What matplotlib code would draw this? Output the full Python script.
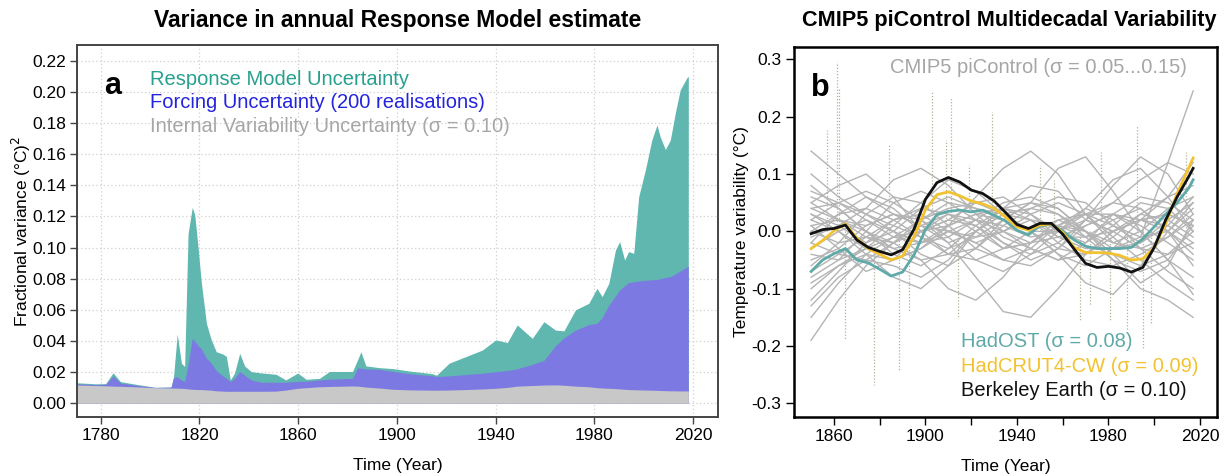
import matplotlib
matplotlib.use('Agg')
import matplotlib.pyplot as plt

plt.rcParams['font.family'] = ['Liberation Sans', 'DejaVu Sans']
plt.rcParams['axes.unicode_minus'] = False

# ---- panel a: variance layers (upper edge of each stacked layer) ----
var_years = [1770, 1778, 1782, 1785, 1788, 1795, 1802, 1808.5, 1809.5, 1811, 1812.7, 1814,
             1815.4, 1817.1, 1818.1, 1819.4, 1820.8, 1822.8, 1824.8, 1826.8, 1829.5, 1830.9,
             1832.5, 1834.2, 1836.3, 1838.3, 1841, 1845, 1851, 1855, 1859.8, 1863.2, 1868.6,
             1872.6, 1882, 1884, 1885.4, 1887.4, 1892.8, 1898.2, 1905, 1914.4, 1916, 1921.1,
             1927.9, 1934.6, 1940, 1944.7, 1948.7, 1954.8, 1959.5, 1964.2, 1967.6, 1972.3,
             1977.7, 1981, 1983.1, 1985.8, 1988.5, 1990.2, 1992.2, 1993.8, 1995.9, 1997.9,
             2000.6, 2003.2, 2005.3, 2006.6, 2008.7, 2010.7, 2012.7, 2014.7, 2017.4, 2018]
total_top = [0.0132, 0.0125, 0.0126, 0.0196, 0.0139, 0.0120, 0.0103, 0.0105, 0.0170, 0.0445,
             0.0257, 0.0236, 0.1090, 0.1259, 0.1210, 0.1006, 0.0770, 0.0514, 0.0407, 0.0331,
             0.0316, 0.0301, 0.0150, 0.0194, 0.0321, 0.0240, 0.0203, 0.0195, 0.0186, 0.0150,
             0.0194, 0.0154, 0.0160, 0.0204, 0.0204, 0.0278, 0.0331, 0.0240, 0.0229, 0.0223,
             0.0207, 0.0190, 0.0180, 0.0257, 0.0300, 0.0342, 0.0407, 0.0390, 0.0503, 0.0417,
             0.0524, 0.0470, 0.0465, 0.0600, 0.0642, 0.0738, 0.0685, 0.0770, 0.0985, 0.1038,
             0.0920, 0.0974, 0.0963, 0.1327, 0.1498, 0.1690, 0.1787, 0.1712, 0.1630, 0.1690,
             0.1862, 0.2012, 0.2090, 0.2100]
forcing_top = [0.0125, 0.0120, 0.0122, 0.0175, 0.0130, 0.0115, 0.0101, 0.0103, 0.0165, 0.0170,
               0.0150, 0.0140, 0.0250, 0.0417, 0.0400, 0.0370, 0.0350, 0.0290, 0.0257, 0.0210,
               0.0175, 0.0160, 0.0140, 0.0160, 0.0204, 0.0180, 0.0150, 0.0135, 0.0135, 0.0135,
               0.0141, 0.0141, 0.0150, 0.0155, 0.0160, 0.0228, 0.0225, 0.0220, 0.0218, 0.0205,
               0.0190, 0.0176, 0.0172, 0.0176, 0.0185, 0.0193, 0.0203, 0.0210, 0.0222, 0.0250,
               0.0275, 0.0370, 0.0420, 0.0470, 0.0505, 0.0514, 0.0550, 0.0630, 0.0690, 0.0728,
               0.0755, 0.0775, 0.0780, 0.0785, 0.0790, 0.0793, 0.0795, 0.0800, 0.0808, 0.0813,
               0.0830, 0.0850, 0.0875, 0.0880]
internal_top = [0.0117, 0.0114, 0.0112, 0.0110, 0.0109, 0.0105, 0.0100, 0.0098, 0.0097, 0.0097,
                0.0096, 0.0095, 0.0092, 0.0090, 0.0089, 0.0088, 0.0088, 0.0086, 0.0084, 0.0080,
                0.0078, 0.0077, 0.0077, 0.0077, 0.0077, 0.0077, 0.0077, 0.0077, 0.0078, 0.0085,
                0.0096, 0.0100, 0.0106, 0.0108, 0.0111, 0.0110, 0.0108, 0.0104, 0.0098, 0.0090,
                0.0086, 0.0084, 0.0084, 0.0085, 0.0088, 0.0092, 0.0096, 0.0102, 0.0110, 0.0114,
                0.0117, 0.0118, 0.0116, 0.0110, 0.0106, 0.0100, 0.0098, 0.0096, 0.0094, 0.0092,
                0.0090, 0.0088, 0.0087, 0.0086, 0.0085, 0.0084, 0.0083, 0.0082, 0.0081, 0.0080,
                0.0080, 0.0079, 0.0079, 0.0079]

# ---- panel b: observed multidecadal variability ----
obs_years = [1850, 1855, 1860, 1865, 1870, 1875, 1880, 1885, 1890, 1895, 1900, 1905, 1910,
             1915, 1920, 1925, 1930, 1935, 1940, 1945, 1950, 1955, 1960, 1965, 1970, 1975,
             1980, 1985, 1990, 1995, 2000, 2005, 2010, 2015, 2017]
berkeley = [-0.004, 0.003, 0.005, 0.011, -0.015, -0.028, -0.035, -0.041, -0.032, 0.004, 0.056,
            0.085, 0.094, 0.086, 0.072, 0.066, 0.053, 0.033, 0.012, 0.005, 0.014, 0.014, -0.005,
            -0.031, -0.056, -0.063, -0.061, -0.064, -0.071, -0.063, -0.028, 0.020, 0.060, 0.095, 0.110]
hadcrut4_cw = [-0.030, -0.016, 0.001, 0.013, -0.012, -0.030, -0.040, -0.050, -0.043, -0.009, 0.038,
               0.064, 0.069, 0.062, 0.053, 0.048, 0.040, 0.025, 0.008, 0.002, 0.011, 0.013, -0.002,
               -0.028, -0.037, -0.037, -0.038, -0.042, -0.050, -0.048, -0.028, 0.013, 0.066, 0.110, 0.128]
hadost = [-0.070, -0.050, -0.039, -0.030, -0.050, -0.055, -0.066, -0.078, -0.071, -0.041, 0.003,
          0.029, 0.035, 0.037, 0.034, 0.037, 0.028, 0.018, 0.002, -0.006, 0.010, 0.012, 0.001,
          -0.015, -0.026, -0.030, -0.030, -0.030, -0.028, -0.013, 0.008, 0.030, 0.050, 0.075, 0.090]

# CMIP5 piControl runs (smoothed), sampled every 12 years
pi_years = [1850, 1862, 1874, 1886, 1898, 1910, 1922, 1934, 1946, 1958, 1970, 1982, 1994, 2006, 2017]
picontrol = [
    [0.14, 0.10, 0.06, 0.03, 0.01, 0.00, -0.01, 0.00, 0.02, 0.01, -0.01, 0.00, 0.02, 0.03, 0.01],
    [-0.19, -0.12, -0.06, -0.02, 0.01, 0.03, 0.02, 0.00, -0.02, -0.01, 0.01, 0.03, 0.02, 0.00, -0.03],
    [0.05, 0.08, 0.10, 0.06, 0.00, -0.04, -0.03, 0.01, 0.04, 0.03, 0.00, -0.03, -0.02, 0.02, 0.05],
    [-0.08, -0.05, 0.00, 0.05, 0.07, 0.05, 0.02, -0.02, -0.05, -0.03, 0.02, 0.05, 0.04, 0.00, -0.04],
    [0.02, 0.00, -0.03, -0.05, -0.03, 0.01, 0.06, 0.11, 0.14, 0.10, 0.03, -0.02, -0.03, -0.01, 0.02],
    [-0.05, -0.03, 0.01, 0.03, 0.02, -0.02, -0.08, -0.14, -0.15, -0.10, -0.04, 0.00, 0.02, 0.01, -0.02],
    [0.07, 0.05, 0.02, -0.01, -0.02, 0.01, 0.03, 0.02, 0.05, 0.11, 0.13, 0.07, 0.00, -0.05, -0.08],
    [-0.12, -0.07, -0.02, 0.02, 0.04, 0.03, 0.00, -0.03, -0.02, 0.01, 0.03, 0.05, 0.09, 0.12, 0.10],
    [0.00, 0.03, 0.04, 0.02, -0.01, -0.04, -0.05, -0.03, 0.00, 0.02, 0.00, -0.05, -0.10, -0.12, -0.15],
    [0.03, 0.01, -0.02, 0.00, 0.04, 0.06, 0.04, 0.03, 0.00, -0.04, -0.06, -0.03, 0.02, 0.03, 0.01],
    [-0.03, 0.00, 0.02, 0.00, -0.04, -0.06, -0.03, 0.02, 0.05, 0.04, 0.00, -0.02, 0.00, 0.04, 0.06],
    [0.06, 0.04, 0.00, -0.04, -0.06, -0.03, 0.01, 0.04, 0.03, 0.00, -0.02, 0.01, 0.05, 0.04, 0.00],
    [-0.10, -0.06, -0.03, -0.01, 0.02, 0.04, 0.05, 0.03, 0.00, -0.03, -0.04, -0.01, 0.03, 0.06, 0.08],
    [0.04, 0.05, 0.03, 0.00, -0.02, -0.01, 0.02, 0.05, 0.06, 0.04, 0.00, -0.04, -0.06, -0.04, 0.00],
    [-0.02, -0.04, -0.05, -0.02, 0.02, 0.05, 0.04, 0.00, -0.03, -0.05, -0.02, 0.03, 0.06, 0.05, 0.02],
    [0.08, 0.04, 0.00, -0.02, 0.00, 0.02, 0.01, -0.02, -0.04, -0.02, 0.02, 0.08, 0.13, 0.10, 0.03],
    [-0.06, -0.02, 0.03, 0.06, 0.05, 0.01, -0.03, -0.05, -0.03, 0.01, 0.04, 0.02, -0.03, -0.07, -0.10],
    [0.01, 0.02, 0.00, -0.03, -0.05, -0.04, 0.00, 0.03, 0.02, -0.01, -0.03, -0.03, -0.01, 0.12, 0.245],
    [-0.15, -0.09, -0.04, -0.01, 0.00, 0.01, 0.03, 0.04, 0.02, -0.02, -0.05, -0.06, -0.04, -0.01, 0.03],
    [0.05, 0.02, -0.01, -0.03, -0.02, 0.00, -0.02, -0.05, -0.06, -0.03, 0.01, 0.03, 0.01, -0.02, -0.05],
    [-0.04, -0.05, -0.03, 0.01, 0.05, 0.09, 0.07, 0.03, 0.00, 0.00, 0.02, 0.00, -0.03, -0.04, -0.02],
    [0.02, 0.05, 0.07, 0.05, 0.02, -0.01, -0.05, -0.07, -0.04, 0.00, 0.03, 0.03, 0.00, -0.05, -0.11],
    [-0.07, -0.04, -0.01, -0.02, -0.05, -0.10, -0.12, -0.08, -0.02, 0.02, 0.03, 0.01, -0.01, 0.00, 0.04],
    [0.00, -0.02, -0.01, 0.02, 0.03, 0.00, -0.02, 0.00, 0.03, 0.05, 0.03, -0.01, -0.05, -0.09, -0.12],
    [-0.09, -0.06, -0.04, -0.05, -0.03, 0.00, 0.02, 0.01, -0.01, 0.00, 0.04, 0.09, 0.11, 0.06, 0.00],
    [0.03, 0.00, -0.04, -0.08, -0.10, -0.06, 0.00, 0.04, 0.05, 0.03, -0.01, -0.05, -0.07, -0.05, 0.01],
    [-0.01, 0.01, 0.04, 0.09, 0.11, 0.08, 0.03, -0.01, -0.03, -0.05, -0.04, 0.00, 0.03, 0.02, -0.01],
    [0.10, 0.06, 0.03, 0.01, -0.01, -0.03, -0.01, 0.02, 0.00, -0.04, -0.09, -0.11, -0.06, 0.00, 0.05],
    [-0.13, -0.08, -0.05, -0.06, -0.08, -0.05, 0.00, 0.03, 0.04, 0.06, 0.05, 0.01, -0.02, 0.01, 0.06],
    [0.04, 0.02, 0.01, 0.03, 0.01, -0.02, 0.00, 0.04, 0.08, 0.07, 0.02, 0.00, 0.02, 0.06, 0.12],
    [-0.02, 0.03, 0.06, 0.04, 0.00, 0.02, 0.05, 0.06, 0.03, -0.01, -0.01, 0.02, 0.04, 0.00, -0.06],
    [0.01, -0.03, -0.07, -0.05, 0.00, 0.03, 0.01, -0.03, -0.02, 0.01, 0.00, -0.04, -0.09, -0.06, 0.02],
]

# annual residual spikes (dotted)
spike_years = [1856.8, 1861.2, 1862.0, 1864.6, 1877.7, 1884.0, 1888.6, 1893.0, 1903.0, 1908.8,
               1911.0, 1914.0, 1919.0, 1929.2, 1950.2, 1956.0, 1967.5, 1971.9, 1976.6, 1980.6,
               1987.9, 1992.6, 1995.2, 1998.8, 2013.7]
spike_vals = [0.177, 0.296, 0.250, -0.187, -0.268, 0.150, -0.242, -0.140, 0.243, 0.160,
              0.232, -0.149, 0.115, 0.209, 0.116, 0.090, -0.155, -0.130, 0.139, -0.155,
              -0.172, 0.185, -0.204, -0.160, 0.139]

TEAL_FILL = '#60b7b0'
BLUE_FILL = '#7c7ae2'
GREY_FILL = '#c8c8c8'

fig = plt.figure(figsize=(12.26, 4.76), dpi=100)
ax1 = fig.add_axes([0.0628, 0.124, 0.5228, 0.7815])
ax2 = fig.add_axes([0.6476, 0.1246, 0.3448, 0.777])

# ---------------- panel a ----------------
ax1.fill_between(var_years, 0, total_top, color=TEAL_FILL, lw=0)
ax1.fill_between(var_years, 0, forcing_top, color=BLUE_FILL, lw=0)
ax1.fill_between(var_years, 0, internal_top, color=GREY_FILL, lw=0)
ax1.set_xlim(1770.4, 2030)
ax1.set_ylim(-0.0088, 0.2301)
ax1.set_xticks(range(1780, 2021, 40))
ax1.set_yticks([i * 0.02 for i in range(12)])
ax1.set_yticklabels([f'{i * 0.02:.2f}' for i in range(12)])
ax1.grid(True, color='#d0d0d0', linestyle=(0, (1, 2)), lw=0.9)
ax1.set_axisbelow(True)
for s in ax1.spines.values():
    s.set_color('#444444')
    s.set_linewidth(1.4)
ax1.tick_params(labelsize=12.5, length=5, width=1, color='#444444', pad=3)
ax1.set_xlabel('Time (Year)', fontsize=12.5, labelpad=10.5)
ax1.set_ylabel('Fractional variance (°C)$^2$', fontsize=12.5, labelpad=-1)

ax1.text(0.043, 0.89, 'a', transform=ax1.transAxes, fontsize=22, fontweight='bold', va='center')
ax1.text(0.114, 0.908, 'Response Model Uncertainty', transform=ax1.transAxes,
         fontsize=14.5, color='#27a08f', va='center')
ax1.text(0.114, 0.845, 'Forcing Uncertainty (200 realisations)', transform=ax1.transAxes,
         fontsize=14.5, color='#2424dd', va='center')
ax1.text(0.114, 0.78, 'Internal Variability Uncertainty (σ = 0.10)', transform=ax1.transAxes,
         fontsize=14.5, color='#a6a6a6', va='center')

# ---------------- panel b ----------------
ax2.vlines(spike_years, 0, spike_vals, colors='#b3b096', linestyles=(0, (1, 1.5)), lw=0.9)
for run in picontrol:
    ax2.plot(pi_years, run, color='#b4b4b4', lw=1.0)
ax2.plot(obs_years, hadost, color='#5faaa8', lw=2.0)
ax2.plot(obs_years, hadcrut4_cw, color='#f3c230', lw=2.0)
ax2.plot(obs_years, berkeley, color='#111111', lw=2.0)

ax2.set_xlim(1842.5, 2027.3)
ax2.set_ylim(-0.3234, 0.322)
ax2.set_xticks(range(1860, 2021, 20))
ax2.set_xticklabels([str(y) if y % 40 == 20 else '' for y in range(1860, 2021, 20)])
ax2.set_yticks([-0.3, -0.2, -0.1, 0.0, 0.1, 0.2, 0.3])
ax2.set_yticklabels(['-0.3', '-0.2', '-0.1', '0.0', '0.1', '0.2', '0.3'])
for s in ax2.spines.values():
    s.set_color('black')
    s.set_linewidth(1.8)
ax2.tick_params(labelsize=12.5, length=6, width=1, pad=3)
ax2.set_xlabel('Time (Year)', fontsize=12.5, labelpad=10.5)
ax2.set_ylabel('Temperature variability (°C)', fontsize=12.5, labelpad=1.5)

ax2.text(0.04, 0.89, 'b', transform=ax2.transAxes, fontsize=22, fontweight='bold', va='center')
ax2.text(0.930, 0.945, 'CMIP5 piControl (σ = 0.05...0.15)', transform=ax2.transAxes,
         fontsize=14.5, color='#a6a6a6', va='center', ha='right')
ax2.text(0.396, 0.202, 'HadOST (σ = 0.08)', transform=ax2.transAxes,
         fontsize=14.5, color='#5faaa8', va='center')
ax2.text(0.396, 0.136, 'HadCRUT4-CW (σ = 0.09)', transform=ax2.transAxes,
         fontsize=14.5, color='#f3c230', va='center')
ax2.text(0.396, 0.07, 'Berkeley Earth (σ = 0.10)', transform=ax2.transAxes,
         fontsize=14.5, color='#111111', va='center')

fig.text(0.3242, 0.957, 'Variance in annual Response Model estimate', ha='center', va='center',
         fontsize=16.5, fontweight='bold')
fig.text(0.8235, 0.957, 'CMIP5 piControl Multidecadal Variability', ha='center', va='center',
         fontsize=15.6, fontweight='bold')

fig.savefig('out.png', dpi=100)
